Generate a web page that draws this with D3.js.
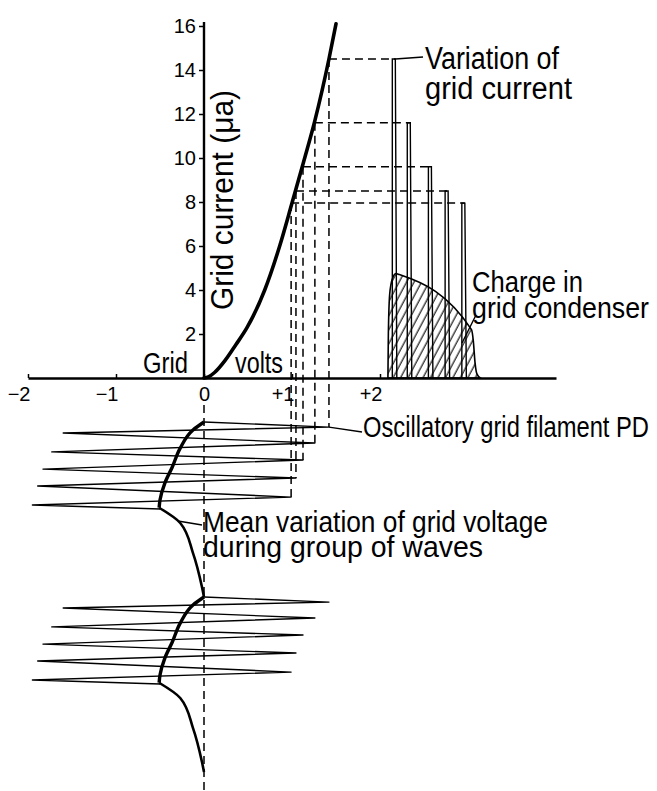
<!DOCTYPE html>
<html>
<head>
<meta charset="utf-8">
<title>Grid current and grid voltage</title>
<script src="https://cdnjs.cloudflare.com/ajax/libs/d3/7.8.5/d3.min.js"></script>
<style>
body { margin: 0; padding: 0; background: #fff; overflow: hidden; }
text { font-family: "Liberation Sans", Arimo, "DejaVu Sans", sans-serif; fill: #000; }
.dash { fill: none; stroke: #000; stroke-width: 1.5; stroke-dasharray: 8,5; }
.thin { fill: none; stroke: #000; stroke-width: 1.4; }
</style>
</head>
<body>
<div id="chart"></div>
<script>
// grid characteristic: grid volts -> grid current (micro-amps)
var curveVolts   = [0, 0.05, 0.12, 0.24, 0.36, 0.49, 0.69, 0.86, 1.0, 1.13, 1.26, 1.42, 1.5];
var curveCurrent = [0, 0.05, 0.25, 0.8, 1.5, 2.3, 4.0, 6.0, 7.95, 9.8, 11.7, 14.5, 16.1];

// positive peaks of the oscillation and the current they give
var peakVolts   = [1.42, 1.26, 1.125, 1.045, 0.99];
var peakCurrent = [14.5, 11.6, 9.6, 8.5, 7.95];
// where each current pulse sits on the right hand (time) part of the axis
var spikePos    = [2.14, 2.31, 2.55, 2.74, 2.93];

// charge in grid condenser (hatched)
var chargePos = [2.09, 2.095, 2.11, 2.14, 2.18, 2.22, 3.04, 3.06, 3.08, 3.1, 3.14];
var chargeVal = [0, 2.0, 3.8, 4.5, 4.75, 4.7, 2.2, 1.7, 0.7, 0.2, 0];

// one group of waves, time runs downwards (one group = 1 unit)
var waveTime  = [0, 0.029, 0.063, 0.12, 0.171, 0.217, 0.269, 0.32, 0.366, 0.429, 0.474, 0.497];
var waveVolts = [0, 1.42, -1.60, 1.26, -1.73, 1.125, -1.83, 1.045, -1.89, 0.99, -1.95, -0.5];

// mean grid voltage during the group
var meanTime  = [0, 0.046, 0.149, 0.257, 0.349, 0.446, 0.49, 0.577, 0.749, 0.943, 1.0];
var meanVolts = [0, -0.125, -0.27, -0.36, -0.445, -0.5, -0.51, -0.27, -0.125, -0.023, 0];

var groups = [0, 1];

var xTicks = [-2, -1, 0, 1, 2];
var xTickLabels = ["\u22122", "\u22121", "0", "+1", "+2"];
var yTicks = [2, 4, 6, 8, 10, 12, 14, 16];

var W = 657, H = 791;

var x = d3.scaleLinear().domain([-2, 4]).range([28, 556]);
var y = d3.scaleLinear().domain([0, 16]).range([378, 26]);
var t = d3.scaleLinear().domain([0, 2]).range([422, 772]);

var svg = d3.select("#chart").append("svg")
    .attr("width", W)
    .attr("height", H);

svg.append("rect").attr("width", W).attr("height", H).attr("fill", "#fff");

var pat = svg.append("defs").append("pattern")
    .attr("id", "hatch")
    .attr("patternUnits", "userSpaceOnUse")
    .attr("width", 6.6)
    .attr("height", 10)
    .attr("patternTransform", "rotate(28)");
pat.append("line")
    .attr("x1", 3).attr("y1", 0).attr("x2", 3).attr("y2", 10)
    .attr("stroke", "#000").attr("stroke-width", 1.1);

/*
* hatched charge area + current pulses
*/
var chargeData = chargePos.map(function(p, i){ return [p, chargeVal[i]]; });

svg.append("path")
    .datum(chargeData)
    .attr("fill", "url(#hatch)")
    .attr("stroke", "#000")
    .attr("stroke-width", 1.6)
    .attr("d", d3.area()
        .x(function(d){ return x(d[0]); })
        .y0(y(0))
        .y1(function(d){ return y(d[1]); })
        .curve(d3.curveMonotoneX));

svg.selectAll(".spike")
    .data(spikePos)
    .enter().append("path")
    .attr("class", "thin spike")
    .attr("d", function(p, i){
        var sx = x(p), top = y(peakCurrent[i]), base = y(0);
        return "M" + sx + "," + base + "L" + sx + "," + top +
            "L" + (sx + 3) + "," + top + "L" + (sx + 4.5) + "," + base;
    });

/*
* dashed projections
*/
svg.selectAll(".hdash")
    .data(peakVolts)
    .enter().append("line")
    .attr("class", "dash")
    .attr("x1", function(v){ return x(v); })
    .attr("x2", function(v, i){ return x(spikePos[i]) + 3; })
    .attr("y1", function(v, i){ return y(peakCurrent[i]); })
    .attr("y2", function(v, i){ return y(peakCurrent[i]); });

svg.selectAll(".vdash")
    .data(peakVolts)
    .enter().append("line")
    .attr("class", "dash")
    .attr("x1", function(v){ return x(v); })
    .attr("x2", function(v){ return x(v); })
    .attr("y1", function(v, i){ return y(peakCurrent[i]); })
    .attr("y2", function(v, i){ return t(waveTime[2 * i + 1]); });

svg.append("line")
    .attr("class", "dash")
    .attr("x1", x(0)).attr("x2", x(0))
    .attr("y1", 405).attr("y2", H);

/*
* axes
*/
var yAxis = svg.append("g")
    .attr("transform", "translate(" + x(0) + ",0)")
    .call(d3.axisLeft(y).tickValues(yTicks).tickSize(5).tickSizeOuter(0).tickPadding(3).tickFormat(d3.format("d")));
yAxis.select(".domain").attr("stroke-width", 2.4).attr("d", "M0," + y(0) + "V" + (y(16) - 4));
yAxis.selectAll("line").attr("stroke-width", 1.5);
yAxis.selectAll("text").style("font-size", "20px").attr("font-family", null);

var xAxis = svg.append("g")
    .attr("transform", "translate(0," + y(0) + ")")
    .call(d3.axisBottom(x).tickValues(xTicks).tickSize(-4).tickSizeOuter(0).tickPadding(9)
        .tickFormat(function(d, i){ return xTickLabels[i]; }));
xAxis.select(".domain").attr("stroke-width", 2.4);
xAxis.selectAll("line").attr("stroke-width", 1.5);
xAxis.selectAll("text")
    .style("font-size", "20px")
    .attr("font-family", null)
    .attr("text-anchor", function(d){ return d === 0 ? "middle" : "end"; })
    .attr("x", function(d){ return d === 0 ? 0 : 2; });

/*
* characteristic curve
*/
var curveData = curveVolts.map(function(v, i){ return [v, curveCurrent[i]]; });
svg.append("path")
    .datum(curveData)
    .attr("fill", "none")
    .attr("stroke", "#000")
    .attr("stroke-width", 3.6)
    .attr("stroke-linecap", "round")
    .attr("d", d3.line()
        .x(function(d){ return x(d[0]); })
        .y(function(d){ return y(d[1]); })
        .curve(d3.curveMonotoneX));

/*
* groups of waves below the axis
*/
var kink = d3.minIndex(meanVolts);
groups.forEach(function(g){
    var wave = waveTime.map(function(tt, i){ return [tt + g, waveVolts[i]]; });
    svg.append("path")
        .datum(wave)
        .attr("class", "thin")
        .attr("stroke-width", 1.6)
        .attr("stroke-linejoin", "round")
        .attr("d", d3.line()
            .x(function(d){ return x(d[1]); })
            .y(function(d){ return t(d[0]); }));

    var mean = meanTime.map(function(tt, i){ return [tt + g, meanVolts[i]]; });
    [mean.slice(0, kink + 1), mean.slice(kink)].forEach(function(part, k){
        svg.append("path")
            .datum(part)
            .attr("fill", "none")
            .attr("stroke", "#000")
            .attr("stroke-width", k === 0 ? 3.4 : 2.6)
            .attr("d", d3.line()
                .x(function(d){ return x(d[1]); })
                .y(function(d){ return t(d[0]); })
                .curve(d3.curveMonotoneY));
    });
});

/*
* labels (lettering is narrow, so squeeze to the drawn width)
*/
function label(txt, px, py, size, len){
    return svg.append("text")
        .attr("x", px).attr("y", py)
        .attr("textLength", len)
        .attr("lengthAdjust", "spacingAndGlyphs")
        .style("font-size", size + "px")
        .text(txt);
}
function leader(x1, y1, x2, y2){
    svg.append("line")
        .attr("class", "thin")
        .attr("x1", x1).attr("y1", y1).attr("x2", x2).attr("y2", y2);
}

svg.append("text")
    .attr("transform", "translate(233,310) rotate(-90)")
    .attr("textLength", 220)
    .attr("lengthAdjust", "spacingAndGlyphs")
    .style("font-size", "32px")
    .text("Grid current (\u03bca)");

label("Grid", 143, 373, 29, 45);
label("volts", 235, 373, 29, 48);

leader(x(spikePos[0]) + 3, y(peakCurrent[0]), 423, 57);
label("Variation of", 425, 69, 31, 134);
label("grid current", 425, 99, 31, 147);

leader(476, 315, 462, 343);
label("Charge in", 472, 292, 30, 111);
label("grid condenser", 472, 318, 30, 177);

leader(x(peakVolts[0]), t(waveTime[1]), 362, 432);
label("Oscillatory grid filament PD", 363, 437, 29, 286);

leader(178, 521, 202, 525);
label("Mean variation of grid voltage", 203, 532, 30, 345);
label("during group of waves", 203, 557, 30, 280);
</script>
</body>
</html>
